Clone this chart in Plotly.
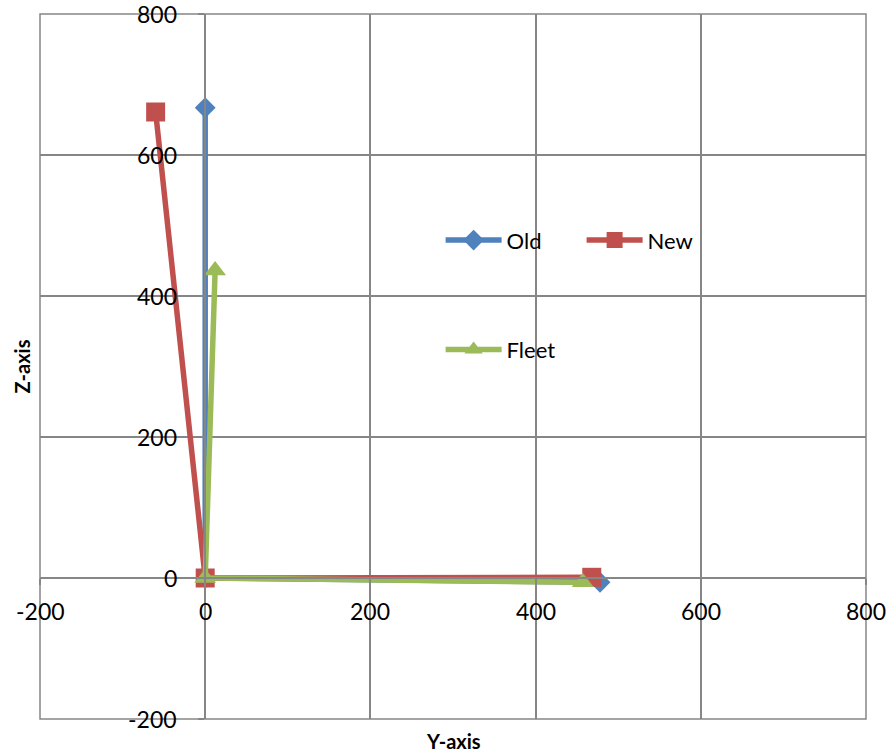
import plotly.graph_objects as go

# Data (Y-axis, Z-axis coordinates)
old_y = [0, 0, 478]
old_z = [667, 0, -6]
new_y = [-60, 0, 468]
new_z = [661, 0, 1]
fleet_y = [12, 0, 457]
fleet_z = [436, 0, -6]

tick_vals = [-200, 0, 200, 400, 600, 800]
tick_text = ["-200", "0", "200", "400", "600", "800"]

FONT = "Lato"
GRID = "#868686"

fig = go.Figure()
fig.add_trace(go.Scatter(x=old_y, y=old_z, name="Old", mode="lines+markers",
                         line=dict(color="#4F81BD", width=5.5),
                         marker=dict(symbol="diamond", size=16, color="#4F81BD"),
                         legend="legend"))
fig.add_trace(go.Scatter(x=new_y, y=new_z, name="New", mode="lines+markers",
                         line=dict(color="#C0504D", width=5.5),
                         marker=dict(symbol="square", size=19, color="#C0504D"),
                         legend="legend"))
fig.add_trace(go.Scatter(x=fleet_y, y=fleet_z, name="Fleet", mode="lines+markers",
                         line=dict(color="#9BBB59", width=5.5),
                         marker=dict(symbol="triangle-up", size=19, color="#9BBB59"),
                         legend="legend2"))

axis_common = dict(
    range=[-200, 800], tickvals=tick_vals, showticklabels=False,
    showgrid=True, gridcolor=GRID, gridwidth=1.5,
    zeroline=False, showline=True, linecolor=GRID, linewidth=1.5,
    ticks="outside", ticklen=6, tickcolor=GRID, tickwidth=1.5,
    anchor="free", position=0.2, automargin=False,
)

annotations = []
for v, t in zip(tick_vals, tick_text):
    annotations.append(dict(text=t, x=v, y=0, xref="x", yref="y", showarrow=False,
                            xanchor="center", yanchor="middle", yshift=-33,
                            font=dict(family=FONT, size=23, color="black")))
    annotations.append(dict(text=t, x=0, y=v, xref="x", yref="y", showarrow=False,
                            xanchor="right", yanchor="middle", xshift=-26,
                            font=dict(family=FONT, size=23, color="black")))
annotations += [
    dict(text="<b>Y-axis</b>", xref="paper", yref="paper", x=0.5, y=-0.031,
         xanchor="center", yanchor="middle", showarrow=False,
         font=dict(family=FONT, size=20, color="black")),
    dict(text="<b>Z-axis</b>", xref="paper", yref="paper", x=-0.023, y=0.5,
         xanchor="center", yanchor="middle", showarrow=False, textangle=-90,
         font=dict(family=FONT, size=20, color="black")),
]

fig.update_layout(
    width=888, height=754,
    margin=dict(l=40, r=22, t=14, b=35),
    plot_bgcolor="white", paper_bgcolor="white",
    xaxis=axis_common,
    yaxis=axis_common,
    showlegend=True,
    legend=dict(orientation="h", x=0.485, y=0.679, xanchor="left", yanchor="middle",
                entrywidth=70, entrywidthmode="pixels", itemwidth=56,
                font=dict(family=FONT, size=22, color="black"),
                bgcolor="rgba(0,0,0,0)"),
    legend2=dict(orientation="h", x=0.485, y=0.524, xanchor="left", yanchor="middle",
                 itemwidth=56,
                 font=dict(family=FONT, size=22, color="black"),
                 bgcolor="rgba(0,0,0,0)"),
    shapes=[dict(type="rect", xref="paper", yref="paper", x0=0, y0=0, x1=1, y1=1,
                 line=dict(color=GRID, width=1.5), layer="below")],
    annotations=annotations,
)

fig.write_html("out.html", config={"displayModeBar": False},
               post_script="document.body.style.margin='0';document.body.style.overflow='hidden';")
